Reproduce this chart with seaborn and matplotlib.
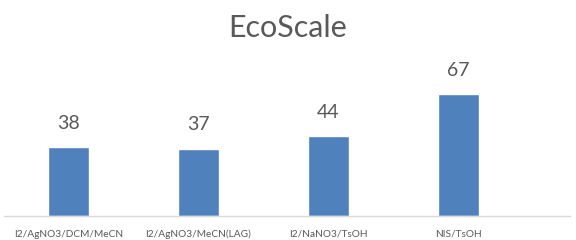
import matplotlib
matplotlib.use("Agg")
import matplotlib.pyplot as plt
import seaborn as sns
import pandas as pd

categories = ["I2/AgNO3/DCM/MeCN", "I2/AgNO3/MeCN(LAG)", "I2/NaNO3/TsOH", "NIS/TsOH"]
values = [38, 37, 44, 67]
title = "EcoScale"

sns.set_theme(style="white")
plt.rcParams['font.family'] = ['Lato', 'DejaVu Sans']

df = pd.DataFrame({"cat": categories, "val": values})

fig = plt.figure(figsize=(5.76, 2.4), dpi=100)
ax = fig.add_axes([3.5/576, 0.1, (570-3.5)/576, 145.6/240])
sns.barplot(data=df, x="cat", y="val", color="#4F81BD", saturation=1, width=0.315, ax=ax)
ax.set_xlim(-0.5, 3.86)
ax.set_ylim(0, 80)
ax.set_xlabel("")
ax.set_ylabel("")
ax.set_yticks([])
for s in ["top", "right", "left"]:
    ax.spines[s].set_visible(False)
ax.spines["bottom"].set_color("#D9D9D9")
ax.spines["bottom"].set_linewidth(1.0)
ax.tick_params(axis="x", length=0, pad=10, labelsize=7.3, labelcolor="#595959")
for c in ax.containers:
    ax.bar_label(c, padding=11, fontsize=14, color="#595959")
fig.text(0.5, 1 - 28/240, title, ha="center", va="center", fontsize=22, color="#595959")
fig.savefig("out.png", dpi=100)
